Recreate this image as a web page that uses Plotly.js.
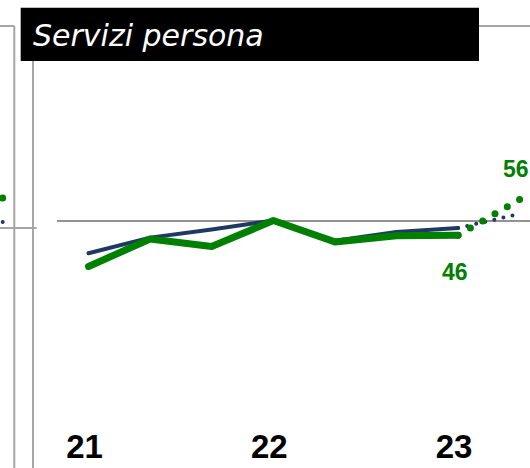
<!DOCTYPE html>
<html>
<head>
<meta charset="utf-8">
<script src="https://cdn.plot.ly/plotly-3.0.1.min.js"></script>
<style>
  html, body { margin: 0; padding: 0; background: #fff; }
  #chart { width: 530px; height: 468px; }
  .scatterlayer path.js-line { stroke-linecap: round; stroke-linejoin: round; }
</style>
</head>
<body>
<div id="chart"></div>
<script>
// ---- data ----
var periods = [0, 1, 2, 3, 4, 5, 6];          // four-monthly periods, 21 .. 23
var forecastPeriods = [6, 7];
var tickVals = [0, 3, 6];
var tickLabels = ['21', '22', '23'];
var greenSeries = [37.2, 44.9, 42.8, 50.1, 44.1, 45.8, 46.0];
var blueSeries  = [40.9, 45.3, 47.6, 50.1, 44.4, 46.9, 48.0];
var greenForecast = [46.0, 56.0];
var blueForecast  = [48.0, 52.0];
var refLevel = 50;
var titleText = 'Servizi persona';
var lastLabel = '46';
var forecastLabel = '56';
// fragment of the neighbouring panel (left), its forecast end points
var prevPanelPeriod = [7];
var prevPanelGreen = [58.4];
var prevPanelBlue = [51.7];

// ---- styles ----
var GREEN = '#008000';
var BLUE = '#1f3864';
var FRAME = '#a6a6a6';
var REF = '#939393';
var W = 530, H = 468, PH = 420;
function px(x) { return x / W; }
function py(y) { return (PH - y) / PH; }

var traces = [
  { x: periods, y: blueSeries, mode: 'lines', line: { color: BLUE, width: 4 }, hoverinfo: 'skip' },
  { x: forecastPeriods, y: blueForecast, mode: 'lines', line: { color: BLUE, width: 4, dash: '0px,9.3px' }, hoverinfo: 'skip' },
  { x: periods, y: greenSeries, mode: 'lines', line: { color: GREEN, width: 7 }, hoverinfo: 'skip' },
  { x: forecastPeriods, y: greenForecast, mode: 'lines', line: { color: GREEN, width: 7, dash: '0px,14.2px' }, hoverinfo: 'skip' },
  { x: prevPanelPeriod, y: prevPanelBlue, xaxis: 'x2', yaxis: 'y2', mode: 'markers', marker: { color: BLUE, size: 4 }, hoverinfo: 'skip' },
  { x: prevPanelPeriod, y: prevPanelGreen, xaxis: 'x2', yaxis: 'y2', mode: 'markers', marker: { color: GREEN, size: 7 }, hoverinfo: 'skip' }
];

function vline(x, y0, y1, color) {
  return { type: 'line', xref: 'paper', yref: 'paper', x0: px(x), x1: px(x), y0: py(y0), y1: py(y1), line: { color: color, width: 2 }, layer: 'above' };
}
function hline(y, x0, x1, color) {
  return { type: 'line', xref: 'paper', yref: 'paper', x0: px(x0), x1: px(x1), y0: py(y), y1: py(y), line: { color: color, width: 2 }, layer: 'above' };
}

var shapes = [
  { type: 'line', xref: 'paper', yref: 'y', x0: px(57), x1: 1, y0: refLevel, y1: refLevel, line: { color: REF, width: 2 }, layer: 'below' },
  { type: 'line', xref: 'paper', yref: 'y2', x0: 0, x1: px(36.7), y0: refLevel, y1: refLevel, line: { color: FRAME, width: 2 }, layer: 'above' },
  vline(14.3, 26, H, FRAME),
  hline(26, 0, 14.3, FRAME),
  vline(33, 26, H, FRAME),
  hline(26, 33, W, FRAME),
  { type: 'rect', xref: 'paper', yref: 'paper', x0: px(20.7), x1: px(479), y0: py(7.7), y1: py(61), fillcolor: '#000', line: { width: 0 }, layer: 'above' }
];

var annotations = [
  { xref: 'paper', yref: 'paper', x: px(31), y: py(35), xanchor: 'left', yanchor: 'middle', text: titleText, showarrow: false,
    font: { family: 'DejaVu Sans', size: 30, color: '#fff', style: 'italic' } },
  { x: 6, y: greenSeries[greenSeries.length - 1], text: lastLabel, showarrow: false, xshift: -3.6, yshift: -37,
    font: { family: 'Liberation Sans, Arial, sans-serif', size: 23, color: GREEN, weight: 'bold' } },
  { x: 7, y: greenForecast[1], text: forecastLabel, showarrow: false, xshift: -3.7, yshift: 30.5,
    font: { family: 'Liberation Sans, Arial, sans-serif', size: 23, color: GREEN, weight: 'bold' } }
];

var layout = {
  width: W, height: H,
  margin: { l: 0, r: 0, t: 0, b: H - PH, pad: 0 },
  paper_bgcolor: '#fff', plot_bgcolor: 'rgba(0,0,0,0)',
  showlegend: false,
  xaxis: {
    range: [-88.5 / 61.6, (W - 88.5) / 61.6], domain: [0, 1],
    tickmode: 'array', tickvals: tickVals, ticktext: tickLabels,
    showgrid: false, zeroline: false, showline: false, ticks: '',
    ticklabelshift: -4, ticklabelstandoff: 4,
    tickfont: { family: 'Liberation Sans, Arial, sans-serif', size: 33, color: '#000', weight: 'bold' },
    fixedrange: true
  },
  yaxis: {
    range: [50 - (PH - 220.9) / 3.56, 50 + 220.9 / 3.56], domain: [0, 1],
    showgrid: false, zeroline: false, showline: false, showticklabels: false, ticks: '',
    fixedrange: true
  },
  xaxis2: {
    domain: [0, 0.012], anchor: 'y2',
    range: [7 - 2.7 / 61.6, 7 + 3.66 / 61.6],
    showgrid: false, zeroline: false, showline: false, showticklabels: false, ticks: ''
  },
  yaxis2: {
    domain: [0, 1], anchor: 'x2',
    range: [50 - (PH - 228) / 3.56, 50 + 228 / 3.56],
    showgrid: false, zeroline: false, showline: false, showticklabels: false, ticks: ''
  },
  shapes: shapes,
  annotations: annotations
};

Plotly.newPlot('chart', traces, layout, { displayModeBar: false, staticPlot: true });
</script>
</body>
</html>
